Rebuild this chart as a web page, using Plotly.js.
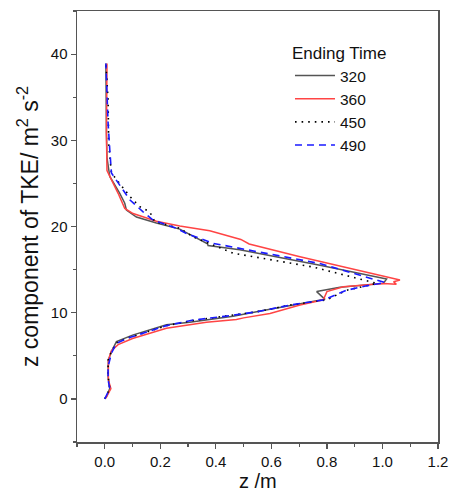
<!DOCTYPE html>
<html><head><meta charset="utf-8">
<script src="https://cdn.plot.ly/plotly-3.0.1.min.js"></script>
<style>html,body{margin:0;padding:0;background:#fff}</style>
</head><body>
<div id="chart" style="width:451px;height:493px"></div>
<script>
const seriesNames = ["320", "360", "450", "490"];

const x320 = [0.004,0.018,0.012,0.013,0.024,0.042,0.10,0.222,0.306,0.462,0.58,0.70,0.793,0.763,0.847,1.003,1.015,0.775,0.486,0.372,0.37,0.27,0.186,0.114,0.078,0.072,0.054,0.018,0.008,0.006,0.004];
const y320 = [0.1,1.2,2.6,4.5,5.5,6.65,7.4,8.6,8.9,9.6,10.3,11.0,11.55,12.45,12.95,13.4,13.9,15.5,17.3,17.8,18.0,19.7,20.4,21.1,21.9,22.7,23.85,25.8,28.0,30.8,38.9];

const x360 = [0.004,0.022,0.013,0.013,0.024,0.048,0.10,0.222,0.366,0.474,0.50,0.595,0.703,0.787,0.80,0.859,1.003,1.05,1.04,1.063,0.703,0.52,0.49,0.378,0.27,0.186,0.102,0.072,0.048,0.03,0.008,0.006,0.008];
const y360 = [0.1,1.2,2.2,4.5,5.6,6.3,7.0,8.2,8.9,9.2,9.4,9.9,10.9,11.5,12.45,13.0,13.4,13.3,13.6,13.8,16.5,17.97,18.5,19.5,20.06,20.6,21.5,22.1,23.85,25.0,26.5,30.8,38.9];

const x450 = [0.0,0.018,0.012,0.012,0.024,0.042,0.078,0.222,0.318,0.438,0.547,0.67,0.80,0.87,0.94,0.98,0.75,0.462,0.318,0.27,0.18,0.162,0.126,0.09,0.024,0.014,0.012,0.004];
const y450 = [0.0,1.2,2.6,4.5,5.5,6.5,7.0,8.5,9.1,9.6,10.1,10.9,11.5,12.6,13.1,13.4,15.3,16.9,18.8,19.8,20.55,21.7,22.3,23.5,26.2,29.6,34.7,38.9];

const x490 = [0.0,0.018,0.012,0.012,0.024,0.042,0.078,0.222,0.318,0.438,0.547,0.67,0.79,0.87,0.94,1.009,0.775,0.486,0.39,0.294,0.258,0.174,0.138,0.09,0.024,0.018,0.012,0.004];
const y490 = [0.0,1.2,2.2,3.75,5.3,6.45,7.0,8.5,9.15,9.6,10.1,10.9,11.5,12.6,13.1,13.5,15.7,17.4,18.05,19.2,19.8,20.75,21.7,23.1,26.2,28.9,32.0,38.9];

const xTicks = [0.0,0.2,0.4,0.6,0.8,1.0,1.2];
const yTicks = [0,10,20,30,40];
const xTitle = 'z /m';

const traces = [
  {x:x320, y:y320, name:seriesNames[0], mode:'lines', line:{color:'#555555', width:1.5}},
  {x:x360, y:y360, name:seriesNames[1], mode:'lines', line:{color:'#ff4444', width:1.5}},
  {x:x450, y:y450, name:seriesNames[2], mode:'lines', line:{color:'#000000', width:1.6, dash:'1.6px,5px'}},
  {x:x490, y:y490, name:seriesNames[3], mode:'lines', line:{color:'#1a1aff', width:1.6, dash:'7px,5px'}}
];

const axisCommon = {
  showline:true, mirror:true, linecolor:'#555', linewidth:1.5,
  ticks:'outside', ticklen:5, tickwidth:1.2, tickcolor:'#555',
  showgrid:false, zeroline:false,
  tickfont:{family:'Arial, Liberation Sans', size:15, color:'#111'}
};

const layout = {
  width:451, height:493,
  margin:{l:77, r:13, t:11, b:51},
  paper_bgcolor:'#fff', plot_bgcolor:'#fff',
  font:{family:'Arial, Liberation Sans', color:'#111'},
  showlegend:true,
  legend:{
    x:0.59, y:0.94, xanchor:'left', yanchor:'top',
    title:{text:'Ending Time', font:{size:17, color:'#111'}},
    font:{size:15.5, color:'#111'}, itemwidth:40, bgcolor:'rgba(0,0,0,0)',
    tracegroupgap:0
  },
  xaxis:Object.assign({}, axisCommon, {
    range:[-0.1,1.2], tickvals:xTicks, tickformat:'.1f',
    minor:{dtick:0.1, ticks:'outside', ticklen:3, tickcolor:'#555'}
  }),
  yaxis:Object.assign({}, axisCommon, {
    range:[-5,45], tickvals:yTicks,
    minor:{dtick:5, ticks:'outside', ticklen:3, tickcolor:'#555'},
    title:{text:'z component of TKE/ m<sup>2</sup> s<sup>-2</sup>', font:{size:23, color:'#111'}, standoff:6}
  }),
  annotations:[{
    text:xTitle, xref:'paper', yref:'paper', x:0.5, y:-0.06,
    xanchor:'center', yanchor:'top', showarrow:false,
    font:{size:20, color:'#111', family:'Arial, Liberation Sans'}
  }]
};

Plotly.newPlot('chart', traces, layout, {displayModeBar:false, staticPlot:true});
</script>
</body></html>
